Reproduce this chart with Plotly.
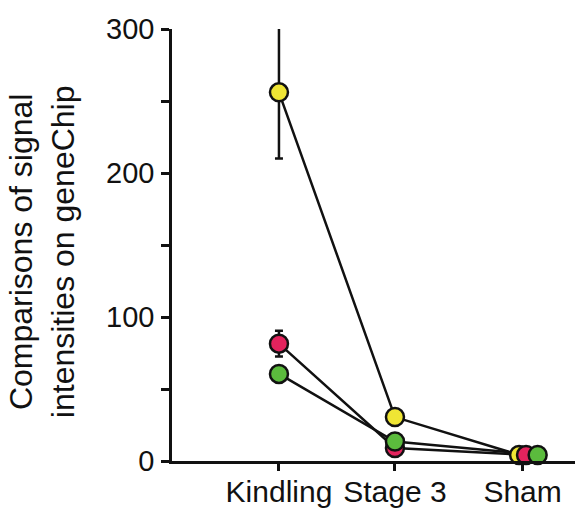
import plotly.graph_objects as go

categories = ["Kindling", "Stage 3", "Sham"]
cat_pos = [0, 1, 2.1]

series_names = ["Yellow", "Red", "Green"]
series_colors = ["#EFE534", "#E3235D", "#5BBB3D"]
yellow_vals = [256, 30.5, 4.2]
yellow_err = [46, 0, 0]
red_vals = [81.5, 9, 4.2]
red_err = [9, 0, 0]
green_vals = [60.5, 13.5, 4.2]
green_err = [0, 0, 0]
sham_dodge = [-0.03, 0.03, 0.13]

y_ticks = [0, 100, 200, 300]
y_minor = [50, 150, 250]

values = [yellow_vals, red_vals, green_vals]
errors = [yellow_err, red_err, green_err]

FONT = "Liberation Sans, Arial, sans-serif"
INK = "#111111"

fig = go.Figure()

xs_all = []
for i in range(3):
    xs = [cat_pos[0], cat_pos[1], cat_pos[2] + sham_dodge[i]]
    xs_all.append(xs)
    fig.add_trace(go.Scatter(x=xs, y=values[i], mode="lines",
                             line=dict(color=INK, width=2.5),
                             showlegend=False, hoverinfo="skip"))

for i in range(3):
    fig.add_trace(go.Scatter(
        x=xs_all[i], y=values[i], mode="markers", name=series_names[i],
        marker=dict(size=18, color=series_colors[i], line=dict(color=INK, width=2.5)),
        error_y=dict(type="data", array=errors[i], visible=True, color=INK,
                     thickness=2.5, width=4),
        showlegend=False, cliponaxis=False))

fig.update_layout(
    width=575, height=511,
    margin=dict(l=172, r=0, t=29, b=50),
    plot_bgcolor="white", paper_bgcolor="white",
    font=dict(family=FONT, color=INK),
    annotations=[dict(
        text="Comparisons of signal<br>intensities on geneChip",
        xref="paper", yref="paper", x=-0.322, y=0.484,
        xanchor="center", yanchor="middle", textangle=-90,
        showarrow=False, font=dict(size=32, family=FONT, color=INK),
    )],
)
fig.update_xaxes(
    range=[-0.922, 2.552], tickvals=cat_pos, ticktext=categories, tickangle=0,
    showline=True, linecolor=INK, linewidth=2.5,
    ticks="outside", ticklen=7, tickwidth=2.5, tickcolor=INK,
    showgrid=False, zeroline=False, tickfont=dict(size=30, family=FONT),
    ticklabelstandoff=-5, automargin=False,
)
fig.update_yaxes(
    range=[0, 300], tickvals=y_ticks,
    showline=True, linecolor=INK, linewidth=2.5,
    ticks="outside", ticklen=8, tickwidth=2.5, tickcolor=INK,
    minor=dict(tickvals=y_minor, ticks="outside", ticklen=8, tickwidth=2.5, tickcolor=INK),
    showgrid=False, zeroline=False, tickfont=dict(size=29, family=FONT),
    ticklabelstandoff=1, automargin=False,
)

fig.write_html("out.html")
